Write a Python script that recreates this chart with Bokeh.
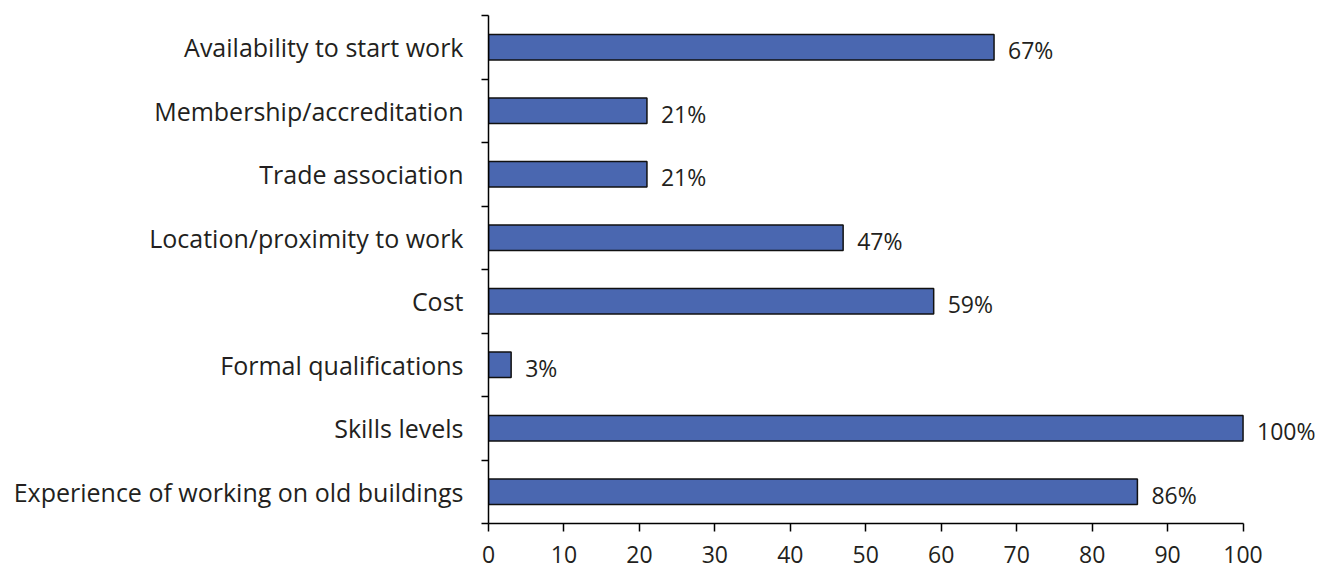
from bokeh.plotting import figure
from bokeh.models import FixedTicker, ColumnDataSource, Range1d, LabelSet
from bokeh.core.properties import value
from bokeh.embed import file_html
from bokeh.resources import INLINE

categories = [
    "Experience of working on old buildings",
    "Skills levels",
    "Formal qualifications",
    "Cost",
    "Location/proximity to work",
    "Trade association",
    "Membership/accreditation",
    "Availability to start work",
]
values = [86, 100, 3, 59, 47, 21, 21, 67]
x_ticks = [0, 10, 20, 30, 40, 50, 60, 70, 80, 90, 100]

FONT = "Open Sans"
TXT = "#231f20"

ypos = [i + 0.5 for i in range(len(categories))]
src = ColumnDataSource(dict(
    y=ypos, v=values, lab=[f"{v}%" for v in values],
))

p = figure(width=1325, height=574, output_backend="svg", toolbar_location=None,
           x_range=Range1d(0, 110), y_range=Range1d(0, len(categories)),
           min_border_left=488, min_border_right=7, min_border_top=15, min_border_bottom=51)
p.outline_line_color = None
p.xgrid.visible = False
p.ygrid.visible = False

p.hbar(y="y", right="v", left=0, height=0.4, source=src,
       fill_color="#4a67b0", line_color="#111111", line_width=1.5)
labels = LabelSet(x="v", y="y", text="lab", source=src, x_offset=14, y_offset=-3,
                  text_font=value(FONT), text_font_size=value("23px"), text_color=TXT,
                  text_baseline="middle", text_align="left")
p.add_layout(labels)

p.xaxis.ticker = FixedTicker(ticks=x_ticks)
p.xaxis.bounds = (0, 100)
p.xaxis.major_tick_out = 8
p.xaxis.major_tick_in = 0
p.xaxis.minor_tick_line_color = None
p.xaxis.axis_line_width = 1.5
p.xaxis.major_tick_line_width = 1.5
p.xaxis.axis_line_color = "black"
p.xaxis.major_tick_line_color = "black"
p.xaxis.major_label_standoff = 14
p.xaxis.major_label_text_font = FONT
p.xaxis.major_label_text_font_size = "23px"
p.xaxis.major_label_text_color = TXT

p.yaxis.ticker = FixedTicker(ticks=ypos, minor_ticks=list(range(len(categories) + 1)))
p.yaxis.major_label_overrides = {y: c for y, c in zip(ypos, categories)}
p.yaxis.major_tick_line_color = None
p.yaxis.major_tick_out = 0
p.yaxis.major_tick_in = 0
p.yaxis.minor_tick_out = 7
p.yaxis.minor_tick_in = 0
p.yaxis.minor_tick_line_width = 1.5
p.yaxis.minor_tick_line_color = "black"
p.yaxis.axis_line_width = 1.5
p.yaxis.axis_line_color = "black"
p.yaxis.major_label_standoff = 18
p.yaxis.major_label_text_font = FONT
p.yaxis.major_label_text_font_size = "25px"
p.yaxis.major_label_text_color = TXT

open("out.html", "w").write(file_html(p, INLINE))
